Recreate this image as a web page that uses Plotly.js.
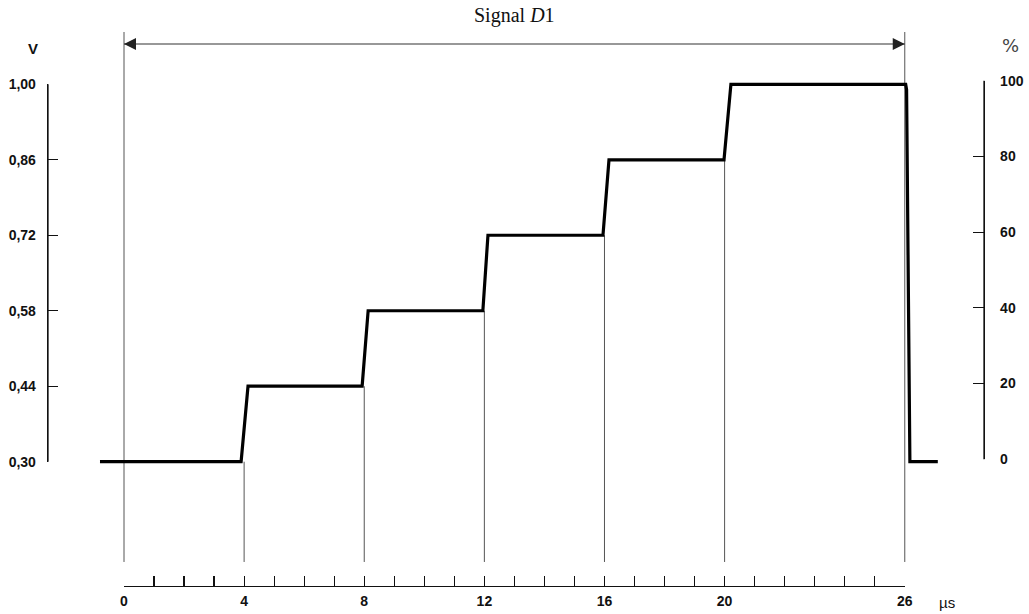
<!DOCTYPE html>
<html>
<head>
<meta charset="utf-8">
<script src="https://cdn.plot.ly/plotly-3.0.1.min.js"></script>
<style>html,body{margin:0;padding:0;background:#fff;}#chart{width:1029px;height:614px;}</style>
</head>
<body>
<div id="chart"></div>
<script>
// ---- data ----
const signalTime = [-0.8, 3.90, 4.13, 7.93, 8.13, 11.95, 12.12, 15.95, 16.15, 19.98, 20.21, 26.03, 26.06, 26.17, 27.1];
const signalVolt = [0.30, 0.30, 0.44, 0.44, 0.58, 0.58, 0.72, 0.72, 0.86, 0.86, 1.00, 1.00, 0.99, 0.30, 0.30];
const stepTimes = [4, 8, 12, 16, 20];
const levelBeforeStep = [0.30, 0.44, 0.58, 0.72, 0.86];
const spanStart = 0, spanEnd = 26;
const voltTicks = [0.30, 0.44, 0.58, 0.72, 0.86, 1.00];
const voltLabels = ['0,30', '0,44', '0,58', '0,72', '0,86', '1,00'];
const pctTicks = [0, 20, 40, 60, 80, 100];
const pctLabels = ['0', '20', '40', '60', '80', '100'];
const timeTicks = Array.from({length: 27}, (_, i) => i);
const timeLabeled = [0, 4, 8, 12, 16, 20, 26];
const titleText = 'Signal <i>D</i>1';

// ---- layout constants ----
const vRange = [0.06945, 1.0970];
const tRange = [-2.5308, 28.638];
const guideBottom = 0.114;
const guideTop = 1.097;
const arrowLevel = 1.0747;

const guideX = [], guideY = [];
[spanStart, spanEnd].forEach(t => { guideX.push(t, t, null); guideY.push(guideTop, guideBottom, null); });
stepTimes.forEach((t, i) => { guideX.push(t, t, null); guideY.push(levelBeforeStep[i], guideBottom, null); });

const tickFont = {family: 'Liberation Sans, Arial, sans-serif', size: 14, weight: 'bold', color: '#111'};
const hiddenAxis = {showline: false, showticklabels: false, ticks: '', showgrid: false, zeroline: false, fixedrange: true};

const traces = [
  {x: guideX, y: guideY, mode: 'lines', line: {color: '#555', width: 1}, hoverinfo: 'skip', showlegend: false},
  {x: [spanStart, spanEnd], y: [arrowLevel, arrowLevel], mode: 'lines+markers',
   line: {color: '#333', width: 1.2},
   marker: {symbol: ['arrow-left', 'arrow-right'], size: 12, color: '#222'},
   hoverinfo: 'skip', showlegend: false},
  {x: signalTime, y: signalVolt, mode: 'lines', line: {color: '#000', width: 3.2}, hoverinfo: 'skip', showlegend: false},
  {x: [null], y: [null], xaxis: 'x', yaxis: 'y2', showlegend: false, hoverinfo: 'skip'},
  {x: [null], y: [null], xaxis: 'x', yaxis: 'y3', showlegend: false, hoverinfo: 'skip'},
  {x: [null], y: [null], xaxis: 'x2', yaxis: 'y', showlegend: false, hoverinfo: 'skip'}
];

const axisLine = {color: '#111', width: 1.3};

const layout = {
  width: 1029, height: 614,
  margin: {l: 48, r: 45, t: 32, b: 28},
  paper_bgcolor: '#fff', plot_bgcolor: 'rgba(0,0,0,0)',
  showlegend: false,
  xaxis: Object.assign({range: tRange, domain: [0, 1]}, hiddenAxis),
  yaxis: Object.assign({range: vRange, domain: [0, 1]}, hiddenAxis),
  xaxis2: {
    domain: [0.08120, 0.91538], range: [spanStart, spanEnd], anchor: 'y', side: 'bottom',
    showline: true, linecolor: '#111', linewidth: 1.3, showgrid: false, zeroline: false,
    ticks: 'inside', ticklen: 10, tickwidth: 1.2, tickcolor: '#111',
    tickvals: timeTicks, ticktext: timeTicks.map(t => timeLabeled.includes(t) ? String(t) : ''),
    tickfont: tickFont, ticklabelstandoff: 2, fixedrange: true
  },
  yaxis2: {
    domain: [0.22437, 0.90560], range: [voltTicks[0], voltTicks[voltTicks.length - 1]], anchor: 'x', side: 'left',
    showline: true, linecolor: '#111', linewidth: 1.3, showgrid: false, zeroline: false,
    ticks: 'inside', ticklen: 10, tickwidth: 1.2, tickcolor: '#111',
    tickvals: voltTicks, ticktext: voltLabels, tickfont: tickFont, ticklabelstandoff: 8, fixedrange: true
  },
  yaxis3: {
    domain: [0.22870, 0.91209], range: [pctTicks[0], pctTicks[pctTicks.length - 1]], anchor: 'x', side: 'right',
    showline: true, linecolor: '#111', linewidth: 1.3, showgrid: false, zeroline: false,
    ticks: 'inside', ticklen: 11, tickwidth: 1.2, tickcolor: '#111',
    tickvals: pctTicks, ticktext: pctLabels, tickfont: tickFont, ticklabelstandoff: 12, fixedrange: true
  },
  shapes: [
    {type: 'line', xref: 'paper', yref: 'y2 domain', x0: 0, x1: 0, y0: 0, y1: 1, line: axisLine, layer: 'above'},
    {type: 'line', xref: 'paper', yref: 'y3 domain', x0: 1, x1: 1, y0: 0, y1: 1, line: axisLine, layer: 'above'}
  ],
  annotations: [
    {text: titleText, xref: 'paper', yref: 'paper', x: 0.4984, y: 1.029, xanchor: 'center', yanchor: 'middle',
     showarrow: false, font: {family: 'Liberation Serif, Times New Roman, serif', size: 20, color: '#111'}},
    {text: 'V', xref: 'paper', yref: 'paper', x: -0.016, y: 0.9711, xanchor: 'center', yanchor: 'middle',
     showarrow: false, font: {family: 'Liberation Sans, Arial, sans-serif', size: 15, weight: 'bold', color: '#111'}},
    {text: '%', xref: 'paper', yref: 'paper', x: 1.0278, y: 0.9765, xanchor: 'center', yanchor: 'middle',
     showarrow: false, font: {family: 'DejaVu Sans, sans-serif', size: 18, color: '#444'}},
    {text: 'µs', xref: 'paper', yref: 'paper', x: 0.9605, y: -0.0289, xanchor: 'center', yanchor: 'middle',
     showarrow: false, font: {family: 'Liberation Sans, Arial, sans-serif', size: 15, color: '#111'}}
  ]
};

Plotly.newPlot('chart', traces, layout, {staticPlot: true, displayModeBar: false});
</script>
</body>
</html>
